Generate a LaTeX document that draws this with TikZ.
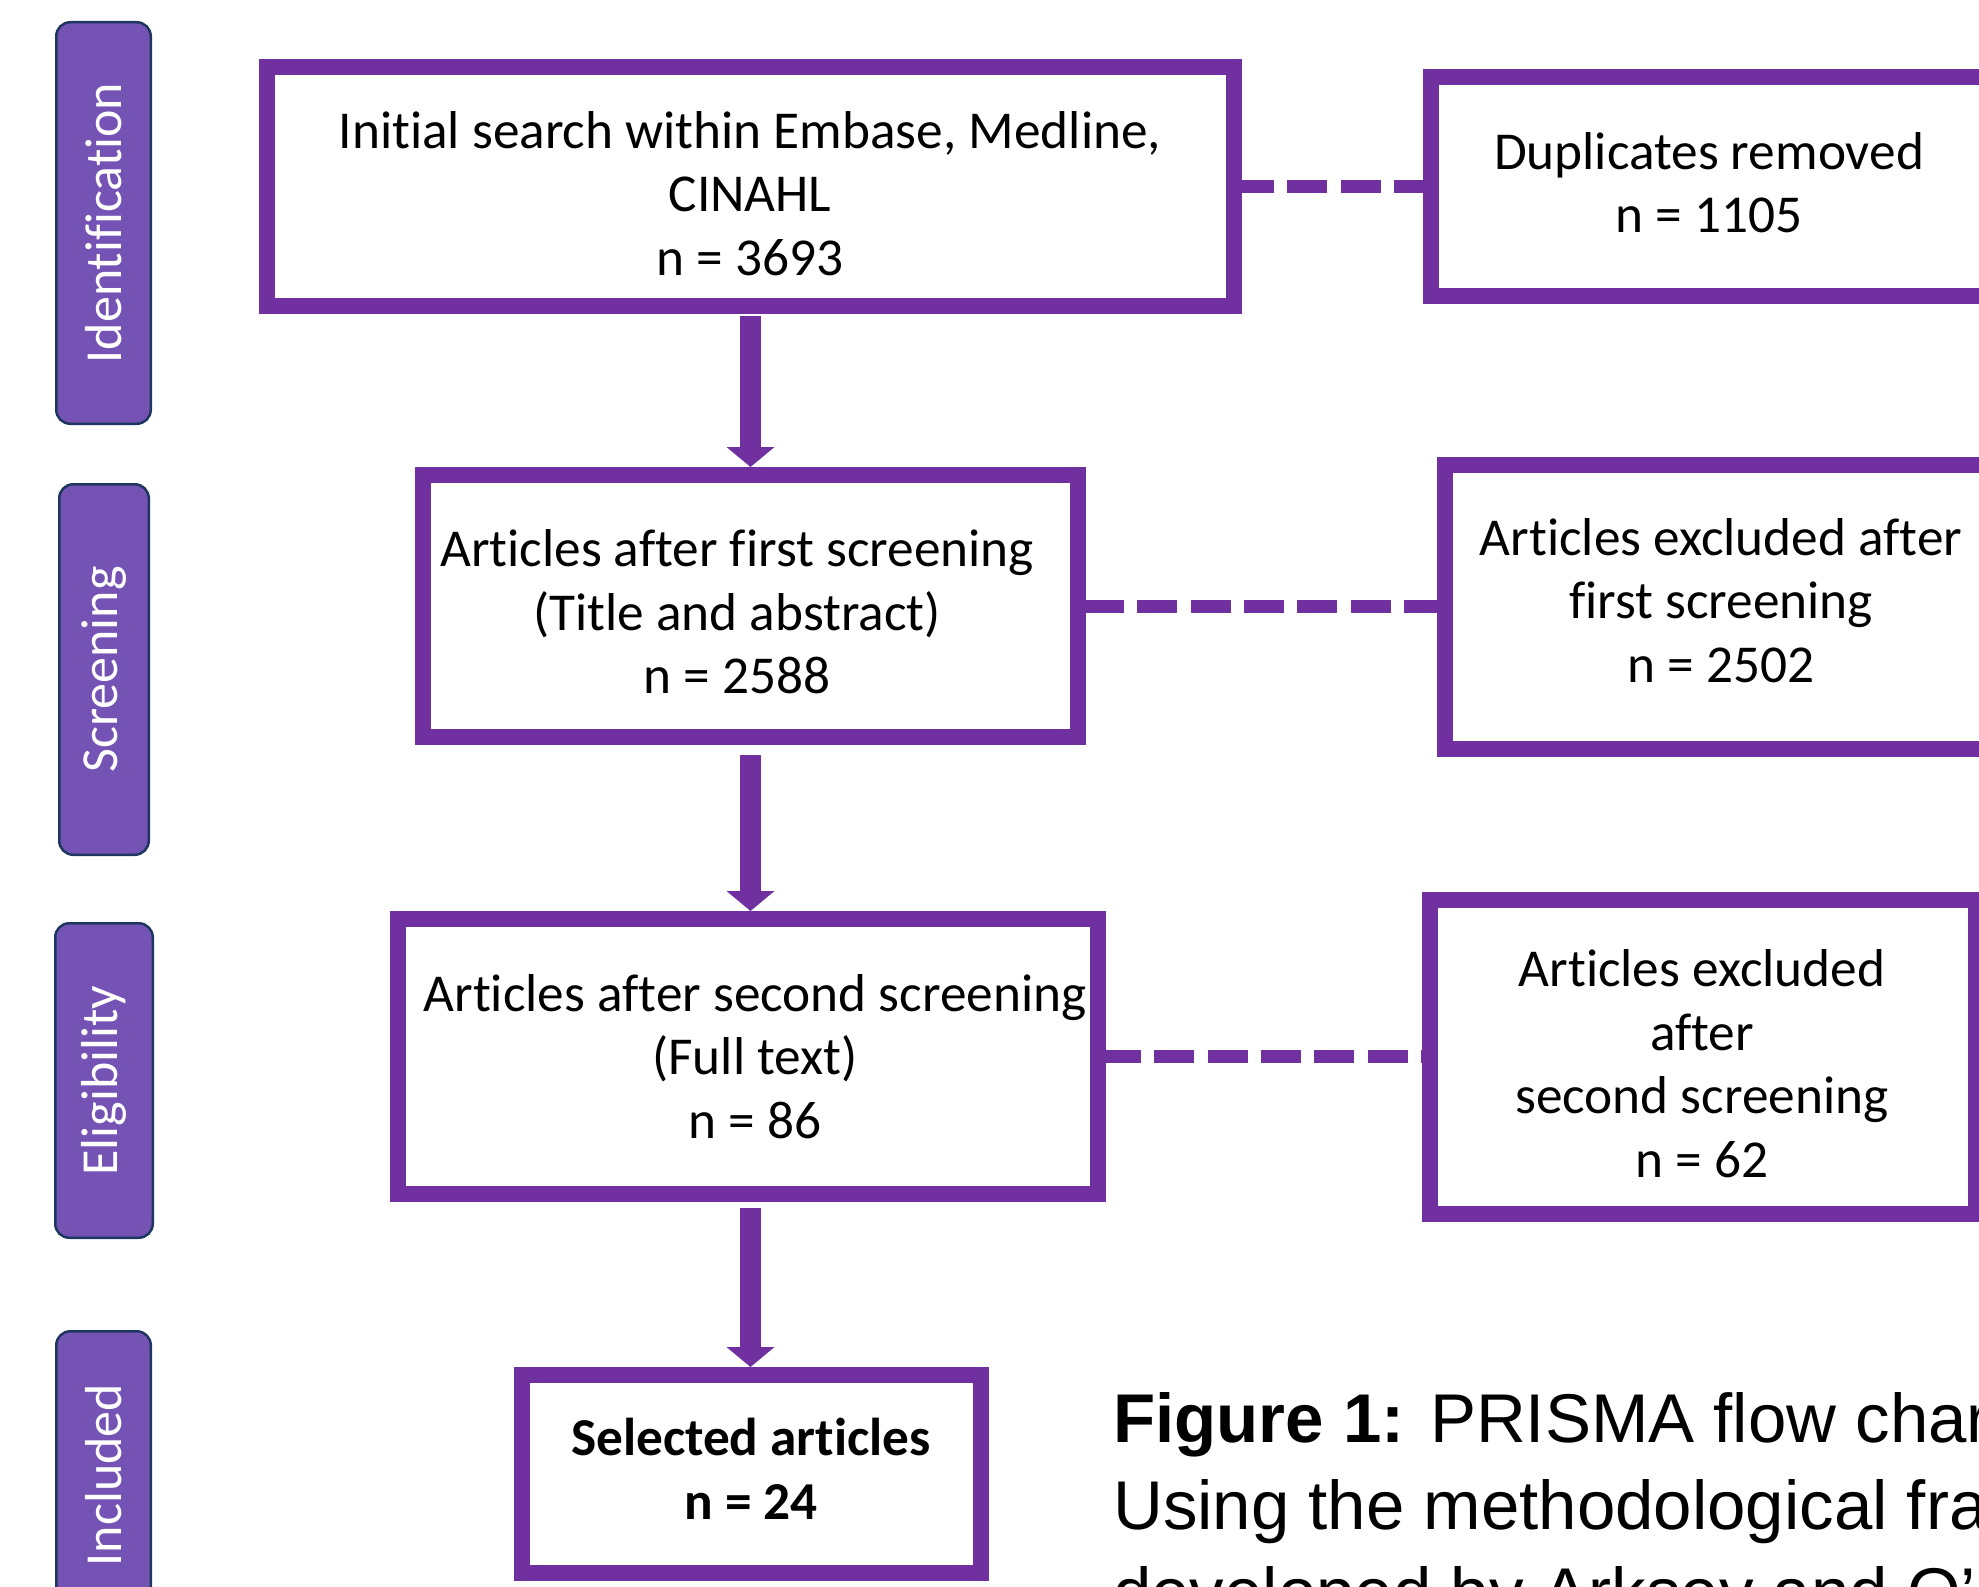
\documentclass[tikz,border=0pt]{standalone}
\usepackage{fontspec}
\setmainfont{Carlito}[Ligatures=CommonOff]
\newfontfamily\capfont{Liberation Sans}
\usetikzlibrary{arrows.meta}
\definecolor{boxpurple}{HTML}{7030A0}
\definecolor{phasefill}{HTML}{7453B5}
\definecolor{phaseedge}{HTML}{1F3660}
\begin{document}
\begin{tikzpicture}[x=1pt,y=-1pt,
  flowbox/.style={draw=boxpurple, line width=16pt, fill=white, inner sep=0pt},
  boxtext/.style={align=center, font=\fontsize{53.3}{63.5}\selectfont, inner sep=0pt},
  phase/.style={draw=phaseedge, line width=2.5pt, fill=phasefill, rounded corners=14pt,
    rotate=90, text=white, font=\fontsize{52}{60}\selectfont, inner sep=0pt},
  flowarrow/.style={draw=boxpurple, line width=21pt, line cap=butt,
    -{Triangle[width=47pt,length=20pt]}},
  dashlink/.style={draw=boxpurple, line width=13pt, dash pattern=on 40pt off 13.3pt}
]
\useasboundingbox (0,0) rectangle (1979,1587);
\clip (0,0) rectangle (1979,1587);
\fill[white] (0,0) rectangle (1979,1587);

% phase labels
\node[phase, minimum width=401.5pt, minimum height=94.5pt] (pid) at (103.5,223) {Identification};
\node[phase, minimum width=370.5pt, minimum height=89.5pt] (psc) at (104,669.5) {Screening};
\node[phase, minimum width=314.5pt, minimum height=97.5pt] (pel) at (104,1080.5) {Eligibility};
\node[phase, minimum width=287.5pt, minimum height=94.5pt] (pin) at (103.5,1475) {Included};

% main boxes
\node[flowbox, minimum width=967pt, minimum height=239pt] (b1) at (750.5,186.5) {};
\node[flowbox, minimum width=655pt, minimum height=262pt] (b2) at (750.5,606) {};
\node[flowbox, minimum width=700pt, minimum height=275pt] (b3) at (748,1056.5) {};
\node[flowbox, minimum width=459pt, minimum height=198pt] (b4) at (751.5,1474) {};

% side boxes
\node[flowbox, minimum width=556pt, minimum height=219pt] (d1) at (1709,186.5) {};
\node[flowbox, minimum width=550pt, minimum height=284pt] (e1) at (1720,607) {};
\node[flowbox, minimum width=546pt, minimum height=314pt] (e2) at (1703,1057) {};

% texts
\node[boxtext] (b1t) at (750,193.5) {Initial search within Embase, Medline,\\CINAHL\\n = 3693};
\node[boxtext] (b2t) at (737,612) {Articles after first screening\\(Title and abstract)\\n = 2588};
\node[boxtext] (b3t) at (755,1056.5) {Articles after second screening\\(Full text)\\n = 86};
\node[boxtext, font=\fontsize{53.3}{63.5}\selectfont\bfseries] (b4t) at (751,1469) {Selected articles\\n = 24};
\node[boxtext] (d1t) at (1709,182.5) {Duplicates removed\\n = 1105};
\node[boxtext] (e1t) at (1721,600.5) {Articles excluded after\\first screening\\n = 2502};
\node[boxtext] (e2t) at (1702,1063.5) {Articles excluded\\after\\second screening\\n = 62};

% arrows
\draw[flowarrow, shorten <=2pt] (b1.south) -- (b1.south |- b2.north);
\draw[flowarrow, shorten <=10pt] (b2.south) -- (b2.south |- b3.north);
\draw[flowarrow, shorten <=6pt] (b1.south |- b3.south) -- (b1.south |- b4.north);

% dashed links
\draw[dashlink, dash phase=8pt] (b1.east) -- (d1.west);
\draw[dashlink, dash phase=2pt] (b2.east) -- (b2.east -| e1.west);
\draw[dashlink, dash phase=5pt] (b3.east) -- (b3.east -| e2.west);

% caption
\node[anchor=north west, inner sep=0pt, align=left,
  font=\capfont\fontsize{69}{87}\selectfont] (cap) at (1113,1392)
  {\textbf{Figure 1:} PRISMA flow chart\\Using the methodological framework\\developed by Arksey and O’Malley};
\end{tikzpicture}
\end{document}
